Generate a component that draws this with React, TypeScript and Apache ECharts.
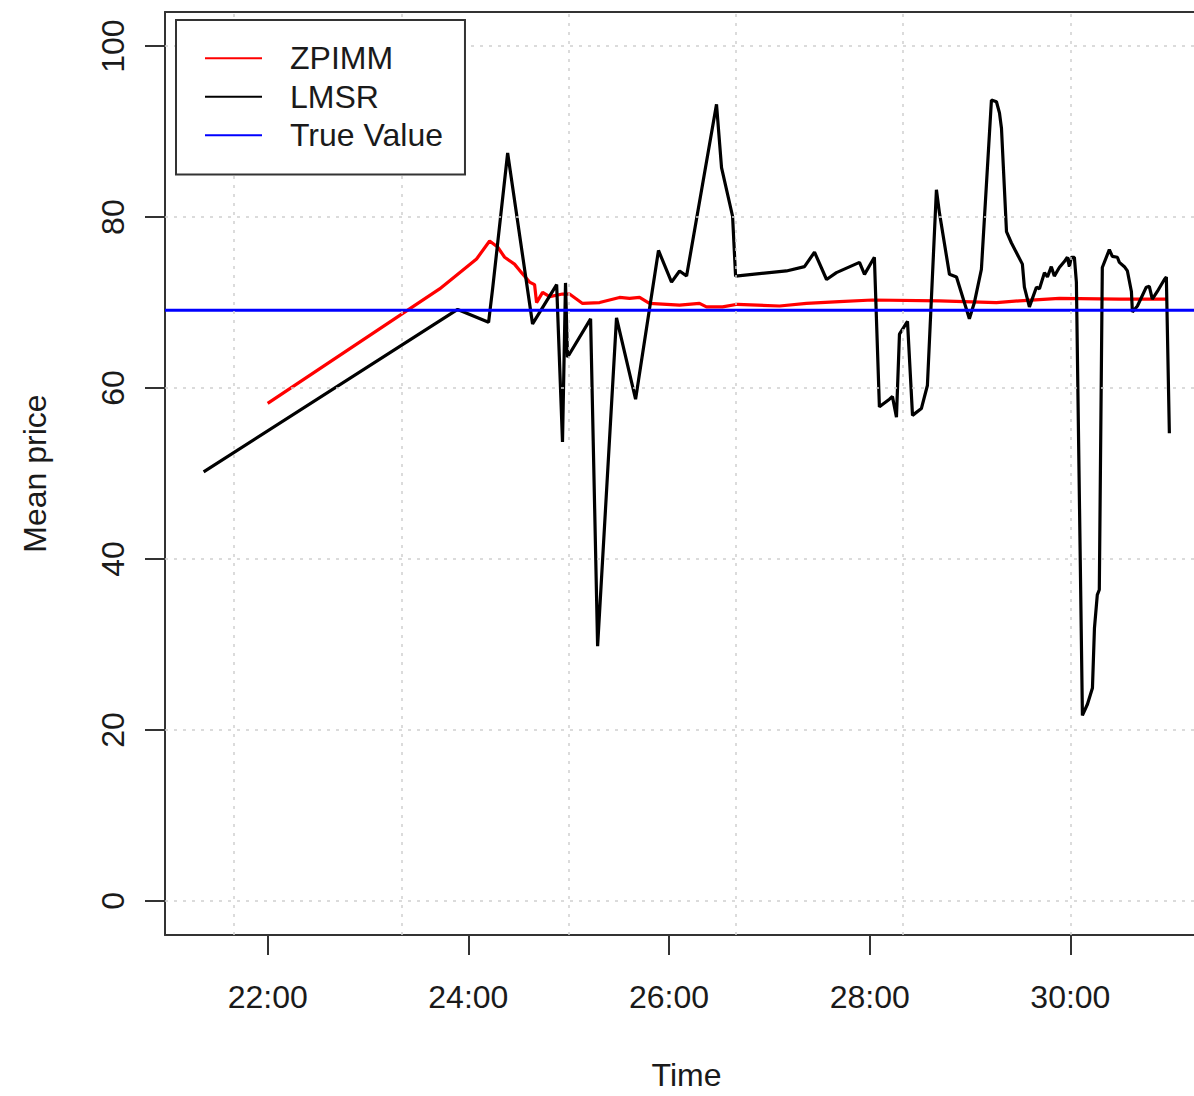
import React, { useEffect, useRef } from "react";
import * as echarts from "echarts";

// Time in minutes (22:00 -> 1320), price in points
const ZPIMM_TIME = [1320.0, 1422.8, 1444.9, 1452.7, 1457.5, 1461.7, 1467.6, 1471.8, 1476.6, 1479.6, 1480.8, 1484.4, 1488.6, 1496.3, 1500.5, 1508.3, 1518.5, 1530.4, 1536.4, 1542.4, 1548.3, 1566.3, 1578.2, 1582.4, 1592.0, 1600.9, 1626.1, 1642.2, 1661.9, 1681.6, 1721.7, 1755.8, 1769.5, 1793.4, 1829.3, 1857.4];
const ZPIMM_PRICE = [58.2, 71.6, 75.1, 77.2, 76.5, 75.3, 74.5, 73.5, 72.4, 72.1, 70.0, 71.2, 70.7, 71.0, 71.0, 69.9, 70.0, 70.6, 70.5, 70.6, 69.9, 69.7, 69.9, 69.5, 69.5, 69.8, 69.6, 69.9, 70.1, 70.3, 70.2, 70.0, 70.2, 70.5, 70.4, 70.4];

const LMSR_TIME = [1281.7, 1433.6, 1452.1, 1454.5, 1463.5, 1478.4, 1492.8, 1496.3, 1498.1, 1499.3, 1513.1, 1517.3, 1528.6, 1540.0, 1553.7, 1561.5, 1566.3, 1570.5, 1588.4, 1591.4, 1598.0, 1599.8, 1630.2, 1641.0, 1647.0, 1654.2, 1660.1, 1673.9, 1676.9, 1682.8, 1685.8, 1691.8, 1693.6, 1696.0, 1697.8, 1702.6, 1705.6, 1710.9, 1714.5, 1719.9, 1721.7, 1727.7, 1731.9, 1739.6, 1742.6, 1746.8, 1752.8, 1755.8, 1757.6, 1758.8, 1761.8, 1764.7, 1771.3, 1772.5, 1775.5, 1779.7, 1781.5, 1784.5, 1786.3, 1788.6, 1790.4, 1793.4, 1796.4, 1798.2, 1799.4, 1800.6, 1802.4, 1803.6, 1807.2, 1810.2, 1813.2, 1814.4, 1816.1, 1817.3, 1819.1, 1823.3, 1825.1, 1828.1, 1829.3, 1832.3, 1834.1, 1836.5, 1837.1, 1840.1, 1845.4, 1847.2, 1849.0, 1852.0, 1856.2, 1857.4, 1859.2];
const LMSR_PRICE = [50.2, 69.2, 67.7, 71.6, 87.5, 67.5, 72.1, 53.7, 72.3, 63.6, 68.1, 29.8, 68.2, 58.7, 76.1, 72.4, 73.7, 73.1, 93.2, 85.8, 80.1, 73.1, 73.7, 74.2, 75.9, 72.7, 73.5, 74.7, 73.3, 75.3, 57.8, 58.7, 59.0, 56.6, 66.3, 67.8, 56.8, 57.6, 60.3, 83.2, 80.5, 73.3, 73.0, 68.1, 70.0, 73.9, 93.7, 93.5, 92.2, 90.4, 78.3, 77.0, 74.5, 71.8, 69.5, 71.8, 71.6, 73.5, 73.0, 74.2, 73.1, 74.1, 74.8, 75.3, 74.2, 75.3, 75.3, 72.4, 21.7, 23.0, 24.9, 31.9, 35.8, 36.4, 74.1, 76.2, 75.4, 75.3, 74.7, 74.2, 73.7, 71.3, 68.9, 69.6, 71.8, 71.9, 70.4, 71.3, 72.7, 73.0, 54.7];

const TRUE_VALUE = 69.1;

const X_TICKS = [1320, 1440, 1560, 1680, 1800];
const X_GRID = [1300, 1400, 1500, 1600, 1700, 1800];
const Y_TICKS = [0, 20, 40, 60, 80, 100];
const Y_LIMITS = [0, 100];

const FONT = "'Liberation Sans', Arial, Helvetica, sans-serif";
const AXIS_COLOR = "#333333";
const TEXT_COLOR = "#1a1a1a";

function fmtTime(v: number): string {
  const h = Math.floor(v / 60);
  const m = Math.round(v - h * 60);
  return `${h}:${String(m).padStart(2, "0")}`;
}

export default function App() {
  const ref = useRef<HTMLDivElement>(null);

  useEffect(() => {
    document.body.style.margin = "0";
    document.body.style.overflow = "hidden";
    if (!ref.current) return;
    const chart = echarts.init(ref.current, undefined, { renderer: "svg" });

    const allX = [...ZPIMM_TIME, ...LMSR_TIME];
    const xMin = Math.min(...allX);
    const xMax = Math.max(...allX);
    const xExt = (xMax - xMin) * 0.04;
    const xLo = xMin - xExt;
    const xHi = xMax + xExt;
    const yExt = (Y_LIMITS[1] - Y_LIMITS[0]) * 0.04;
    const yLo = Y_LIMITS[0] - yExt;
    const yHi = Y_LIMITS[1] + yExt;

    const zpimm = ZPIMM_TIME.map((t, i) => [t, ZPIMM_PRICE[i]]);
    const lmsr = LMSR_TIME.map((t, i) => [t, LMSR_PRICE[i]]);
    const trueLine = [[xLo, TRUE_VALUE], [xHi, TRUE_VALUE]];

    const axisLineStyle = { color: AXIS_COLOR, width: 2 };

    chart.setOption({
      animation: false,
      backgroundColor: "#ffffff",
      textStyle: { fontFamily: FONT },
      grid: { left: 165, top: 12, width: 1043, height: 926, containLabel: false },
      legend: {
        data: ["ZPIMM", "LMSR", "True Value"],
        orient: "vertical",
        left: 176,
        top: 20,
        padding: [19, 22, 20, 29],
        itemGap: 0,
        itemWidth: 57,
        itemHeight: 2,
        icon: "rect",
        selectedMode: false,
        backgroundColor: "#ffffff",
        borderColor: AXIS_COLOR,
        borderWidth: 2,
        borderRadius: 0,
        textStyle: {
          fontSize: 32,
          lineHeight: 38.5,
          color: TEXT_COLOR,
          fontFamily: FONT,
          padding: [0, 0, 0, 23],
        },
        z: 10,
      },
      xAxis: [
        {
          type: "value",
          min: xLo,
          max: xHi,
          position: "bottom",
          axisLine: { show: true, onZero: false, lineStyle: axisLineStyle },
          axisTick: { show: true, length: 20, customValues: X_TICKS, lineStyle: axisLineStyle },
          axisLabel: {
            show: true,
            customValues: X_TICKS,
            formatter: (v: number) => fmtTime(v),
            fontSize: 32,
            color: TEXT_COLOR,
            fontFamily: FONT,
            margin: 46,
          },
          splitLine: { show: false },
          name: "Time",
          nameLocation: "middle",
          nameGap: 124,
          nameTextStyle: { fontSize: 32, color: TEXT_COLOR, fontFamily: FONT },
        },
        {
          type: "value",
          min: xLo,
          max: xHi,
          position: "top",
          axisLine: { show: true, onZero: false, lineStyle: axisLineStyle },
          axisTick: { show: false },
          axisLabel: { show: false },
          splitLine: { show: false },
        },
      ],
      yAxis: {
        type: "value",
        min: yLo,
        max: yHi,
        axisLine: { show: true, onZero: false, lineStyle: axisLineStyle },
        axisTick: { show: true, length: 20, customValues: Y_TICKS, lineStyle: axisLineStyle },
        axisLabel: {
          show: true,
          customValues: Y_TICKS,
          rotate: 90,
          fontSize: 32,
          color: TEXT_COLOR,
          fontFamily: FONT,
          margin: 36,
        },
        splitLine: { show: false },
        name: "Mean price",
        nameLocation: "middle",
        nameGap: 114,
        nameRotate: 90,
        nameTextStyle: { fontSize: 32, color: TEXT_COLOR, fontFamily: FONT },
      },
      series: [
        {
          name: "gridlines",
          type: "line",
          data: [],
          z: 1,
          silent: true,
          markLine: {
            silent: true,
            symbol: ["none", "none"],
            label: { show: false },
            lineStyle: { type: [3, 6], color: "#cfcfcf", width: 1.5 },
            data: [
              ...X_GRID.map((v) => ({ xAxis: v })),
              ...Y_TICKS.map((v) => ({ yAxis: v })),
            ],
          },
        },
        {
          name: "ZPIMM",
          type: "line",
          data: zpimm,
          symbol: "none",
          color: "#ff0000",
          lineStyle: { color: "#ff0000", width: 3.2 },
          z: 2,
        },
        {
          name: "LMSR",
          type: "line",
          data: lmsr,
          symbol: "none",
          color: "#000000",
          lineStyle: { color: "#000000", width: 3.2 },
          z: 3,
        },
        {
          name: "True Value",
          type: "line",
          data: trueLine,
          symbol: "none",
          color: "#0000ff",
          lineStyle: { color: "#0000ff", width: 3.2 },
          z: 4,
        },
      ],
    });

    return () => {
      chart.dispose();
    };
  }, []);

  return <div ref={ref} style={{ width: 1230, height: 1096 }} />;
}
